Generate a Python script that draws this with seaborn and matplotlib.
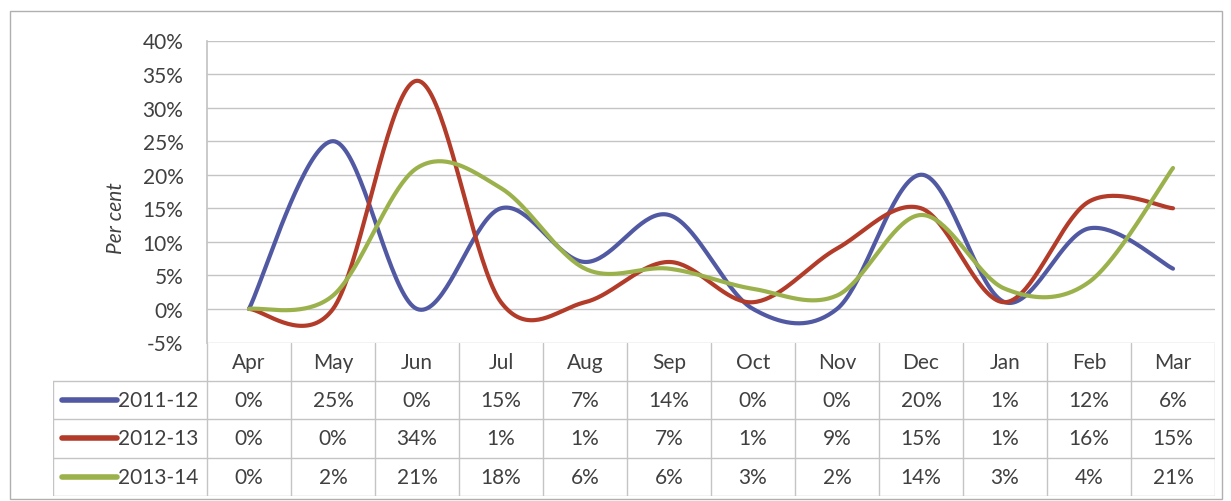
import numpy as np
import matplotlib
matplotlib.use("Agg")
import matplotlib.pyplot as plt
from matplotlib.patches import Rectangle
import seaborn as sns

months = ['Apr', 'May', 'Jun', 'Jul', 'Aug', 'Sep', 'Oct', 'Nov', 'Dec', 'Jan', 'Feb', 'Mar']
series_names = ['2011-12', '2012-13', '2013-14']
v_2011_12 = [0, 25, 0, 15, 7, 14, 0, 0, 20, 1, 12, 6]
v_2012_13 = [0, 0, 34, 1, 1, 7, 1, 9, 15, 1, 16, 15]
v_2013_14 = [0, 2, 21, 18, 6, 6, 3, 2, 14, 3, 4, 21]
colors = ['#5159a3', '#b23c29', '#9bb24c']
yticks = [-5, 0, 5, 10, 15, 20, 25, 30, 35, 40]

sns.set_theme(style='white')
plt.rcParams['font.family'] = ['Lato', 'DejaVu Sans']
TXT = '#404040'
GRID = '#c4c4c4'
FS = 15


def smooth(vals, n=40):
    # Excel-style smoothed line: Catmull-Rom bezier between data points
    p = np.asarray(vals, dtype=float)
    x = np.arange(len(p), dtype=float)
    xs, ys = [], []
    for i in range(len(p) - 1):
        i0, i3 = max(i - 1, 0), min(i + 2, len(p) - 1)
        pts_x = [x[i], x[i] + (x[i + 1] - x[i0]) / 6, x[i + 1] - (x[i3] - x[i]) / 6, x[i + 1]]
        pts_y = [p[i], p[i] + (p[i + 1] - p[i0]) / 6, p[i + 1] - (p[i3] - p[i]) / 6, p[i + 1]]
        t = np.linspace(0, 1, n, endpoint=(i == len(p) - 2))
        b = [(1 - t) ** 3, 3 * (1 - t) ** 2 * t, 3 * (1 - t) * t ** 2, t ** 3]
        xs.append(sum(bk * c for bk, c in zip(b, pts_x)))
        ys.append(sum(bk * c for bk, c in zip(b, pts_y)))
    return np.concatenate(xs), np.concatenate(ys)


W, H = 1231, 502
fig = plt.figure(figsize=(W / 100, H / 100), dpi=100)
fig.patches.append(Rectangle((10 / W, 2 / H), 1212 / W, 488 / H, transform=fig.transFigure,
                             fill=False, edgecolor='#b0b0b0', lw=1))

left, right, top, bottom = 207, 1215, 41.5, 343.5
ax = fig.add_axes([left / W, 1 - bottom / H, (right - left) / W, (bottom - top) / H])
for vals, col in zip([v_2011_12, v_2012_13, v_2013_14], colors):
    sx, sy = smooth(vals)
    sns.lineplot(x=sx, y=sy, sort=False, color=col, lw=3, ax=ax, solid_capstyle='round')
ax.set_xlim(-0.5, len(months) - 0.5)
ax.set_ylim(-5, 40)
ax.set_yticks(yticks)
ax.set_yticklabels([f'{v}%' for v in yticks])
ax.set_xticks([])
for v in yticks:
    ax.axhline(v, color=GRID, lw=1, zorder=0)
for s in ['top', 'right', 'bottom']:
    ax.spines[s].set_visible(False)
ax.spines['left'].set_color(GRID)
ax.tick_params(axis='y', length=0, pad=17, labelsize=FS, labelcolor=TXT)
fig.text(116 / W, 1 - 218 / H, 'Per cent', rotation=90, style='italic', fontsize=FS,
         color=TXT, ha='center', va='center')

# data table under the chart
lab_w = 154 / ((right - left) / len(months))
tab_bottom = 497
tax = fig.add_axes([(left - 154) / W, 1 - tab_bottom / H, (right - left + 154) / W, (tab_bottom - bottom) / H])
tax.set_xlim(-0.5 - lab_w, len(months) - 0.5)
tax.set_ylim(4, 0)
tax.axis('off')
for i, m in enumerate(months):
    tax.text(i, 0.5, m, ha='center', va='center', fontsize=FS, color=TXT)
for k in range(len(months) + 1):
    tax.plot([k - 0.5, k - 0.5], [0, 4], color=GRID, lw=1)
tax.plot([-0.5 - lab_w, -0.5 - lab_w], [1, 4], color=GRID, lw=1)
for r in range(1, 5):
    tax.plot([-0.5 - lab_w, len(months) - 0.5], [r, r], color=GRID, lw=1)
for r, (name, vals, col) in enumerate(zip(series_names, [v_2011_12, v_2012_13, v_2013_14], colors), start=1):
    tax.plot([-0.5 - lab_w + 0.11, -0.5 - lab_w + 0.76], [r + 0.5, r + 0.5], color=col, lw=4,
             solid_capstyle='round')
    tax.text(-0.6, r + 0.5, name, ha='right', va='center', fontsize=FS, color=TXT)
    for i, v in enumerate(vals):
        tax.text(i, r + 0.5, f'{v}%', ha='center', va='center', fontsize=FS, color=TXT)

fig.savefig('out.png', dpi=100)
